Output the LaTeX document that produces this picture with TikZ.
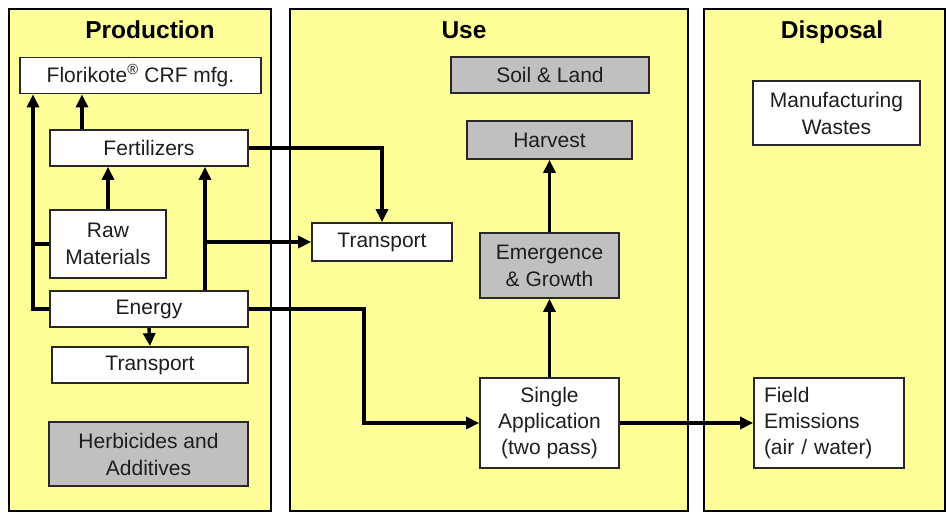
\documentclass[tikz,border=0pt]{standalone}
\usepackage{fontspec}
\setmainfont{Liberation Sans}
\usetikzlibrary{arrows.meta}
\definecolor{panelyellow}{RGB}{255,255,153}
\definecolor{boxgray}{RGB}{192,192,192}
\definecolor{boxline}{RGB}{40,40,40}
\definecolor{txt}{RGB}{30,30,30}
\begin{document}
\begin{tikzpicture}[x=1pt,y=-1pt,
  panel/.style={draw=black,line width=1.8pt,fill=panelyellow},
  title/.style={font=\fontsize{24.5}{28}\selectfont\bfseries,inner sep=0pt},
  wbox/.style={draw=boxline,line width=1.8pt,fill=white,inner sep=0pt,align=center,
    text=txt,font=\fontsize{21}{27}\selectfont},
  gbox/.style={wbox,fill=boxgray},
  arr/.style={line width=3.4pt,-{Triangle[length=13pt,width=12pt]}},
  ln/.style={line width=3.4pt}]
\useasboundingbox (0,0) rectangle (946,512);
\fill[white] (0,0) rectangle (946,512);
% panels
\draw[panel] (9,9) rectangle (271,511);
\draw[panel] (290,9) rectangle (688,511);
\draw[panel] (704,9) rectangle (945,511);
\node[title] (tprodt) at (150,30) {Production};
\node[title] (tuset) at (464,30) {Use};
\node[title] (tdisp) at (832,32) {Disposal};
% production nodes
\node[wbox,minimum width=241pt,minimum height=36pt] (flor) at (140.5,75.5) {Florikote\textsuperscript{®} CRF mfg.};
\node[wbox,minimum width=198pt,minimum height=36pt] (fert) at (149,148) {Fertilizers};
\node[wbox,minimum width=116pt,minimum height=68pt] (raw) at (108,244) {Raw\\Materials};
\node[wbox,minimum width=198pt,minimum height=36pt] (energy) at (149,309) {Energy};
\node[wbox,minimum width=196pt,minimum height=36pt] (tprod) at (150,365) {Transport};
\node[gbox,minimum width=199pt,minimum height=64pt] (herb) at (148.5,454) {Herbicides and\\Additives};
% use nodes
\node[gbox,minimum width=198pt,minimum height=36pt] (soil) at (550,75) {Soil \& Land};
\node[gbox,minimum width=165pt,minimum height=38pt] (harv) at (549.5,140) {Harvest};
\node[wbox,minimum width=140pt,minimum height=38pt] (tuse) at (382,242) {Transport};
\node[gbox,minimum width=139pt,minimum height=65pt] (emerg) at (549.5,265.5) {Emergence\\\& Growth};
\node[wbox,minimum width=139pt,minimum height=90pt,font=\fontsize{21}{26}\selectfont] (single) at (549.5,423) {Single\\Application\\(two pass)};
% disposal nodes
\node[wbox,minimum width=167pt,minimum height=64pt] (mfgw) at (836.5,113) {Manufacturing\\Wastes};
\node[wbox,text width=130pt,inner xsep=10pt,align=left,minimum height=90pt,font=\fontsize{21}{26}\selectfont] (field) at (829,423) {Field\\Emissions\\(air / water)};
% helper coordinates
\coordinate (c33) at (33,0);
\coordinate (c82) at (82,0);
\coordinate (c205) at (205,0);
\coordinate (c364) at (364,0);
% production connectors
\draw[arr] (fert.north -| c82) -- (flor.south -| c82);
\draw[arr] (raw.north) -- (raw.north |- fert.south);
\draw[arr] (energy.west) -- (energy.west -| c33) -- (flor.south -| c33);
\draw[ln] (raw.west) -- (raw.west -| c33);
\draw[arr] (energy.north -| c205) -- (fert.south -| c205);
\draw[arr] (c205 |- tuse.west) -- (tuse.west);
\draw[arr] (energy.south) -- (tprod.north);
\draw[arr] (fert.east) -| (tuse.north);
\draw[arr] (energy.east) -- (energy.east -| c364) |- (single.west);
% use connectors
\draw[arr] (single.north) -- (emerg.south);
\draw[arr] (emerg.north) -- (harv.south);
\draw[arr] (single.east) -- (field.west);
\end{tikzpicture}
\end{document}
